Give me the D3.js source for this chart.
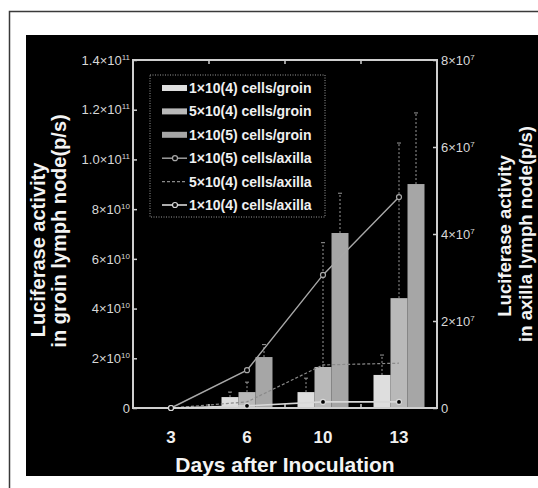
<!DOCTYPE html>
<html><head><meta charset="utf-8">
<script src="https://cdn.jsdelivr.net/npm/d3@7/dist/d3.min.js"></script>
<style>body{margin:0;background:#fff}svg{display:block}</style>
</head><body>
<script>
// ---- data ----
const days = ["3", "6", "10", "13"];
const groinSeries = ["1×10(4) cells/groin", "5×10(4) cells/groin", "1×10(5) cells/groin"];
const groin1e4 = [0, 4.4e9, 6.4e9, 1.33e10];
const groin5e4 = [0, 6.4e9, 1.65e10, 4.42e10];
const groin1e5 = [0, 2.05e10, 7.04e10, 9.01e10];
const groinErr1e4 = [0, 2.0e9, 5.6e9, 8.0e9];
const groinErr5e4 = [0, 4.0e9, 5.0e10, 6.24e10];
const groinErr1e5 = [0, 5.0e9, 1.6e10, 2.86e10];
const axillaSeries = ["1×10(5) cells/axilla", "5×10(4) cells/axilla", "1×10(4) cells/axilla"];
const axilla1e5 = [0, 0.87e7, 3.06e7, 4.85e7];
const axilla5e4 = [0, 0.14e7, 0.99e7, 1.03e7];
const axilla1e4 = [0, 0.05e7, 0.14e7, 0.14e7];
const leftTicks = [0, 2e10, 4e10, 6e10, 8e10, 1.0e11, 1.2e11, 1.4e11];
const leftTickBase = ["0", "2×10", "4×10", "6×10", "8×10", "1.0×10", "1.2×10", "1.4×10"];
const leftTickExp = ["", "10", "10", "10", "10", "11", "11", "11"];
const rightTicks = [0, 2e7, 4e7, 6e7, 8e7];
const rightTickBase = ["0", "2×10", "4×10", "6×10", "8×10"];
const rightTickExp = ["", "7", "7", "7", "7"];
const xTitle = "Days after Inoculation";
const leftTitle = ["Luciferase activity", "in groin lymph node(p/s)"];
const rightTitle = ["Luciferase activity", "in axilla lymph node(p/s)"];

// ---- styles ----
const barFill = ["#dedede", "#b9b9b9", "#a6a6a6"];
const lineStyle = [
  {stroke: "#a8a8a8", width: 1.4, dash: null, marker: true},
  {stroke: "#8a8a8a", width: 1.2, dash: "3,2", marker: false},
  {stroke: "#d8d8d8", width: 1.6, dash: null, marker: true}
];
const W = 538, H = 488;
const plot = {l: 133, r: 437, t: 60, b: 408};
const font = "'Liberation Sans', Arial, sans-serif";

const svg = d3.select("body").append("svg").attr("width", W).attr("height", H)
  .style("font-family", font);
svg.append("rect").attr("width", W).attr("height", H).attr("fill", "#fff");
// scan frame
svg.append("path").attr("d", `M9.5,${H} V11.5 H${W}`).attr("fill", "none")
  .attr("stroke", "#3a3a3a").attr("stroke-width", 1.5);
svg.append("rect").attr("x", 26).attr("y", 35).attr("width", W - 26).attr("height", 441).attr("fill", "#000");

const x0 = d3.scaleBand().domain(days).range([plot.l, plot.r]).padding(0);
const groupW = 51;
const x1 = d3.scaleBand().domain(groinSeries).range([0, groupW]).padding(0);
const yL = d3.scaleLinear().domain([0, 1.4e11]).range([plot.b, plot.t]);
const yR = d3.scaleLinear().domain([0, 8e7]).range([plot.b, plot.t]);
const groupOff = (x0.bandwidth() - groupW) / 2;

const groinVals = [groin1e4, groin5e4, groin1e5];
const groinErrs = [groinErr1e4, groinErr5e4, groinErr1e5];
const axillaVals = [axilla1e5, axilla5e4, axilla1e4];

// bars
const barData = [];
groinSeries.forEach((s, si) => days.forEach((d, di) => {
  barData.push({s, si, d, v: groinVals[si][di], e: groinErrs[si][di]});
}));
// draw taller series first so neighbours sit in front
const gBars = svg.append("g");
gBars.selectAll("rect").data(barData.filter(b => b.v > 0).sort((a, b) => b.si - a.si)).join("rect")
  .attr("x", b => x0(b.d) + groupOff + x1(b.s))
  .attr("y", b => yL(b.v))
  .attr("width", x1.bandwidth())
  .attr("height", b => yL(0) - yL(b.v))
  .attr("fill", b => barFill[b.si]);

// error bars
const gErr = svg.append("g").attr("stroke", "#9a9a9a").attr("stroke-width", 1);
barData.filter(b => b.e > 0).forEach(b => {
  const cx = x0(b.d) + groupOff + x1(b.s) + x1.bandwidth() / 2;
  gErr.append("line").attr("x1", cx).attr("x2", cx)
    .attr("y1", yL(b.v)).attr("y2", yL(b.v + b.e)).attr("stroke-dasharray", "2,2");
  gErr.append("line").attr("x1", cx - 2).attr("x2", cx + 2)
    .attr("y1", yL(b.v + b.e)).attr("y2", yL(b.v + b.e));
});

// frame
svg.append("rect").attr("x", plot.l).attr("y", plot.t)
  .attr("width", plot.r - plot.l).attr("height", plot.b - plot.t)
  .attr("fill", "none").attr("stroke", "#cfcfcf").attr("stroke-width", 2);

// lines (right axis)
const cxDay = d => x0(d) + x0.bandwidth() / 2;
axillaSeries.forEach((s, si) => {
  const st = lineStyle[si];
  const pts = days.map((d, di) => [cxDay(d), yR(axillaVals[si][di])]);
  svg.append("path").attr("d", d3.line()(pts)).attr("fill", "none")
    .attr("stroke", st.stroke).attr("stroke-width", st.width)
    .attr("stroke-dasharray", st.dash);
  if (st.marker) {
    svg.append("g").selectAll("circle").data(pts).join("circle")
      .attr("cx", p => p[0]).attr("cy", p => p[1]).attr("r", 2.5)
      .attr("fill", "#000").attr("stroke", st.stroke).attr("stroke-width", 1.2);
  }
});

// left axis
const axL = svg.append("g").attr("transform", `translate(${plot.l},0)`)
  .call(d3.axisLeft(yL).tickValues(leftTicks).tickSizeInner(-4).tickSizeOuter(0).tickPadding(3).tickFormat(() => ""));
axL.select(".domain").remove();
axL.selectAll("line").attr("stroke", "#cfcfcf").attr("stroke-width", 1.5);
axL.selectAll("text").each(function (d, i) {
  const t = d3.select(this).attr("fill", "#d8d8d8").style("font-size", "13px").style("font-family", font);
  t.append("tspan").text(leftTickBase[i]);
  if (leftTickExp[i]) t.append("tspan").attr("dy", "-5").style("font-size", "8px").text(leftTickExp[i]);
});

// right axis
const axR = svg.append("g").attr("transform", `translate(${plot.r},0)`)
  .call(d3.axisRight(yR).tickValues(rightTicks).tickSizeInner(-4).tickSizeOuter(0).tickPadding(4).tickFormat(() => ""));
axR.select(".domain").remove();
axR.selectAll("line").attr("stroke", "#cfcfcf").attr("stroke-width", 1.5);
axR.selectAll("text").each(function (d, i) {
  const t = d3.select(this).attr("fill", "#d8d8d8").style("font-size", "13px").style("font-family", font);
  t.append("tspan").text(rightTickBase[i]);
  if (rightTickExp[i]) t.append("tspan").attr("dy", "-5").style("font-size", "8px").text(rightTickExp[i]);
});

// bottom axis labels
const axB = svg.append("g").attr("transform", `translate(0,${plot.b})`)
  .call(d3.axisBottom(x0).tickSize(0).tickPadding(23));
axB.select(".domain").remove();
axB.selectAll("text").attr("fill", "#f0f0f0").style("font-size", "17px").style("font-weight", "bold").style("font-family", font);
// band boundary ticks top and bottom
const bounds = days.slice(1).map(d => x0(d));
svg.append("g").selectAll("line").data(bounds).join("line")
  .attr("x1", b => b).attr("x2", b => b).attr("y1", plot.b).attr("y2", plot.b - 4)
  .attr("stroke", "#cfcfcf").attr("stroke-width", 1.5);
svg.append("g").selectAll("line").data(bounds).join("line")
  .attr("x1", b => b).attr("x2", b => b).attr("y1", plot.t).attr("y2", plot.t + 4)
  .attr("stroke", "#cfcfcf").attr("stroke-width", 1.5);

// titles
svg.append("text").attr("x", (plot.l + plot.r) / 2).attr("y", 472).attr("text-anchor", "middle")
  .attr("fill", "#f4f4f4").style("font-size", "21px").style("font-weight", "bold").text(xTitle);
svg.append("text").attr("transform", "translate(45,250) rotate(-90)").attr("text-anchor", "middle")
  .attr("fill", "#f4f4f4").style("font-size", "20px").style("font-weight", "bold").text(leftTitle[0]);
svg.append("text").attr("transform", "translate(66,231) rotate(-90)").attr("text-anchor", "middle")
  .attr("fill", "#f4f4f4").style("font-size", "20px").style("font-weight", "bold").text(leftTitle[1]);
svg.append("text").attr("transform", "translate(511,236) rotate(-90)").attr("text-anchor", "middle")
  .attr("fill", "#f4f4f4").style("font-size", "18.5px").style("font-weight", "bold").text(rightTitle[0]);
svg.append("text").attr("transform", "translate(532,234) rotate(-90)").attr("text-anchor", "middle")
  .attr("fill", "#f4f4f4").style("font-size", "18.5px").style("font-weight", "bold").text(rightTitle[1]);

// legend
const leg = svg.append("g");
leg.append("rect").attr("x", 150).attr("y", 75).attr("width", 175).attr("height", 142)
  .attr("fill", "#000").attr("stroke", "#9a9a9a").attr("stroke-width", 1).attr("stroke-dasharray", "1,1.5");
const legItems = groinSeries.map((s, i) => ({s, type: "bar", i}))
  .concat(axillaSeries.map((s, i) => ({s, type: "line", i})));
legItems.forEach((it, k) => {
  const cy = 88 + k * 23.4;
  if (it.type === "bar") {
    leg.append("rect").attr("x", 162).attr("y", cy - 3).attr("width", 25).attr("height", 6).attr("fill", barFill[it.i]);
  } else {
    const st = lineStyle[it.i];
    leg.append("line").attr("x1", 162).attr("x2", 187).attr("y1", cy).attr("y2", cy)
      .attr("stroke", st.stroke).attr("stroke-width", st.width).attr("stroke-dasharray", st.dash);
    if (st.marker) leg.append("circle").attr("cx", 175).attr("cy", cy).attr("r", 2.5)
      .attr("fill", "#000").attr("stroke", st.stroke).attr("stroke-width", 1.2);
  }
  leg.append("text").attr("x", 189).attr("y", cy + 5).attr("fill", "#f0f0f0")
    .style("font-size", "14px").style("font-weight", "bold").text(it.s);
});
</script>
</body></html>
